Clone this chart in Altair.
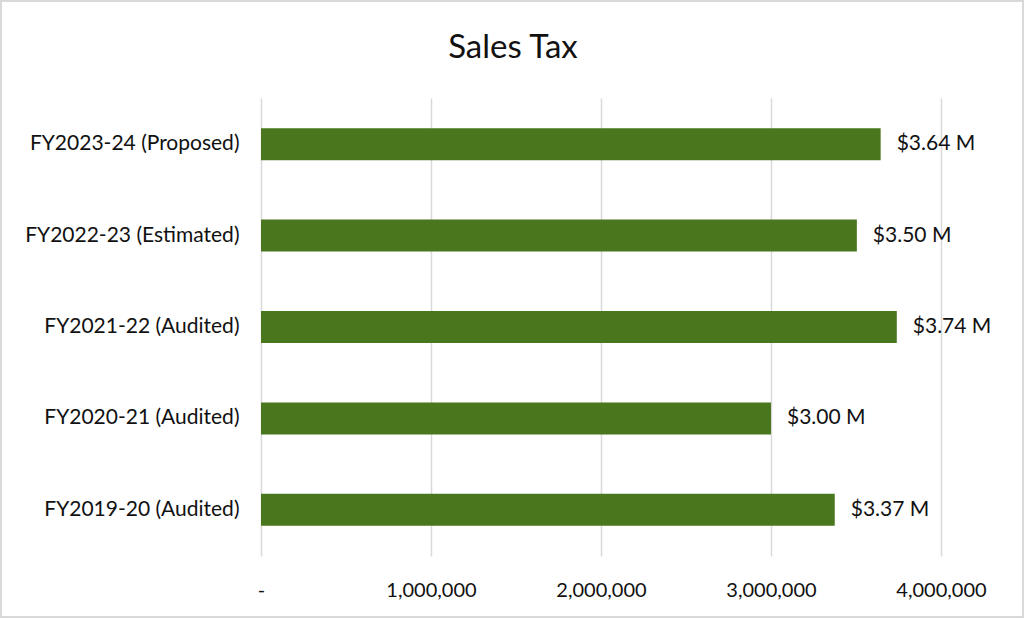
import altair as alt
import pandas as pd

categories = ["FY2023-24 (Proposed)", "FY2022-23 (Estimated)", "FY2021-22 (Audited)",
              "FY2020-21 (Audited)", "FY2019-20 (Audited)"]
values = [3645000, 3505000, 3740000, 3000000, 3375000]
labels = ["$3.64 M", "$3.50 M", "$3.74 M", "$3.00 M", "$3.37 M"]
tick_values = [0, 1000000, 2000000, 3000000, 4000000]
title_text = "Sales Tax"

df = pd.DataFrame({"cat": categories, "value": values, "label": labels})

FONT = "Lato"
GREEN = "#4A771E"
TXT = "#111111"

y_enc = alt.Y("cat:N", sort=categories, title=None,
              scale=alt.Scale(paddingInner=0.65, paddingOuter=0.33),
              axis=alt.Axis(labelFontSize=21, labelFont=FONT, labelColor=TXT, labelLimit=400,
                            labelPadding=22, ticks=False, domain=False, grid=False))
x_enc = alt.X("value:Q", title=None,
              scale=alt.Scale(domain=[0, 4000000], nice=False),
              axis=alt.Axis(values=tick_values, labelFontSize=20, labelFont=FONT,
                            labelColor=TXT, labelPadding=24, ticks=False, domain=False,
                            labelFlush=False, labelOverlap=False, labelBound=False,
                            grid=True, gridColor="#d9d9d9", gridWidth=1.5,
                            labelExpr="datum.value == 0 ? '-' : format(datum.value, ',')"))

bars = alt.Chart(df).mark_bar(color=GREEN).encode(x=x_enc, y=y_enc)
text = alt.Chart(df).mark_text(align="left", dx=16, fontSize=21, font=FONT,
                               color=TXT).encode(
    x="value:Q", y=alt.Y("cat:N", sort=categories), text="label:N")

frame = alt.Chart(df).mark_rect(fill=None, stroke="#d9d9d9", strokeWidth=1.5).encode(
    x=alt.value(-260), x2=alt.value(762), y=alt.value(-97), y2=alt.value(519))

title = alt.Chart(pd.DataFrame({"t": [title_text]})).mark_text(
    fontSize=33, font=FONT, color=TXT, align="center", baseline="alphabetic").encode(
    x=alt.value(252), y=alt.value(-40), text="t:N")

chart = alt.layer(frame, bars, text, title).properties(
    width=680, height=458,
    padding={"left": 261, "top": 98, "right": 83, "bottom": 63},
    autosize=alt.AutoSizeParams(type="none"),
).configure_view(stroke=None)

chart.save("out.html", embed_options={"renderer": "svg", "actions": False})
